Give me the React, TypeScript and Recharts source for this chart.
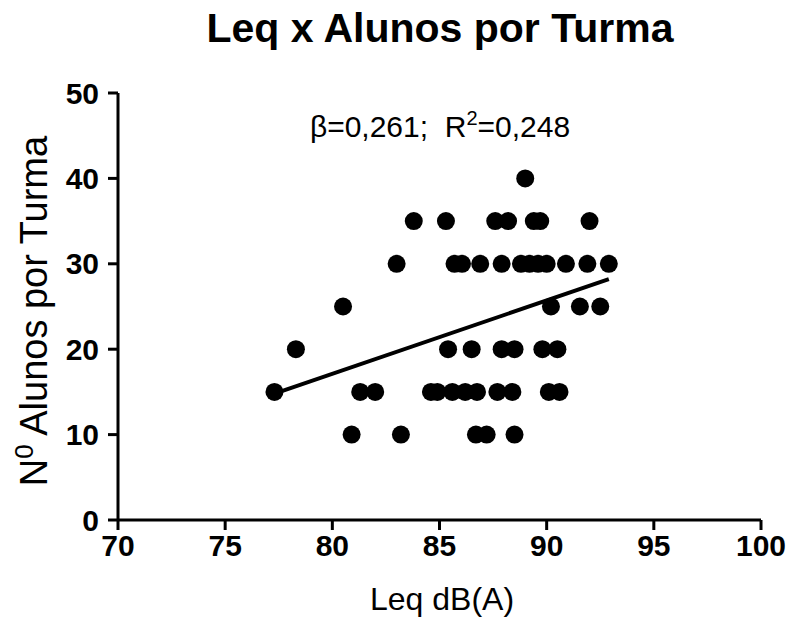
import React from "react";
import { ScatterChart, Scatter, XAxis, YAxis, ReferenceLine } from "recharts";

// Leq dB(A) values of each class, grouped by number of students per class
const leq10 = [80.9, 83.2, 86.7, 87.2, 88.5];
const leq15 = [77.3, 81.3, 82.0, 84.6, 84.9, 85.6, 86.2, 86.75, 87.7, 88.4, 90.1, 90.6];
const leq20 = [78.3, 85.4, 86.5, 87.9, 88.5, 89.8, 90.5];
const leq25 = [80.5, 90.2, 91.55, 92.5];
const leq30 = [83.0, 85.7, 86.05, 86.9, 87.9, 88.8, 89.2, 89.6, 90.0, 90.9, 91.9, 92.9];
const leq35 = [83.8, 85.3, 87.6, 88.2, 89.4, 89.7, 92.0];
const leq40 = [89.0];

const groups: [number, number[]][] = [
  [10, leq10],
  [15, leq15],
  [20, leq20],
  [25, leq25],
  [30, leq30],
  [35, leq35],
  [40, leq40],
];

// regression line end points
const fitLine = [
  { x: 77.3, y: 14.8 },
  { x: 92.9, y: 28.2 },
];

const xTicks = [70, 75, 80, 85, 90, 95, 100];
const yTicks = [0, 10, 20, 30, 40, 50];

const data = groups.flatMap(([n, xs]) => xs.map((x) => ({ x, y: n })));

const FONT = "'Liberation Sans', Arial, sans-serif";

const Dot = (props: any) => <circle cx={props.cx} cy={props.cy} r={9} fill="#000" />;

export default function App() {
  return (
    <div style={{ position: "absolute", left: 0, top: 0, width: 787, height: 621, background: "#fff" }}>
      <ScatterChart width={787} height={621} margin={{ top: 93, right: 26, bottom: 51, left: 58 }}>
        <XAxis
          type="number"
          dataKey="x"
          domain={[70, 100]}
          ticks={xTicks}
          interval={0}
          allowDataOverflow
          height={50}
          stroke="#000"
          strokeWidth={3}
          tickSize={10}
          tickMargin={5}
          tick={{ fill: "#000", fontSize: 30, fontWeight: "bold", fontFamily: FONT }}
        />
        <YAxis
          type="number"
          dataKey="y"
          domain={[0, 50]}
          ticks={yTicks}
          interval={0}
          allowDataOverflow
          width={60}
          stroke="#000"
          strokeWidth={3}
          tickSize={10}
          tickMargin={9}
          tick={{ fill: "#000", fontSize: 30, fontWeight: "bold", fontFamily: FONT }}
        />
        <Scatter data={data} fill="#000" shape={Dot} isAnimationActive={false} />
        <ReferenceLine
          segment={fitLine}
          stroke="#000"
          strokeWidth={4}
          ifOverflow="visible"
        />
      </ScatterChart>
      <svg
        width={787}
        height={621}
        style={{ position: "absolute", left: 0, top: 0, pointerEvents: "none" }}
        fontFamily={FONT}
      >
        <text x={440} y={42} textAnchor="middle" fontSize={41} fontWeight="bold" fill="#000">
          Leq x Alunos por Turma
        </text>
        <text x={440} y={137} textAnchor="middle" fontSize={30} fill="#000" xmlSpace="preserve">
          {"β=0,261;  R"}
          <tspan dy={-12} fontSize={20}>2</tspan>
          <tspan dy={12}>=0,248</tspan>
        </text>
        <text x={442} y={610} textAnchor="middle" fontSize={32} fill="#000">
          Leq dB(A)
        </text>
        <text
          transform="translate(47,311) rotate(-90)"
          x={0}
          y={0}
          textAnchor="middle"
          fontSize={38}
          fill="#000"
        >
          N
          <tspan dy={-14} fontSize={26}>0</tspan>
          <tspan dy={14}> Alunos por Turma</tspan>
        </text>
      </svg>
    </div>
  );
}
